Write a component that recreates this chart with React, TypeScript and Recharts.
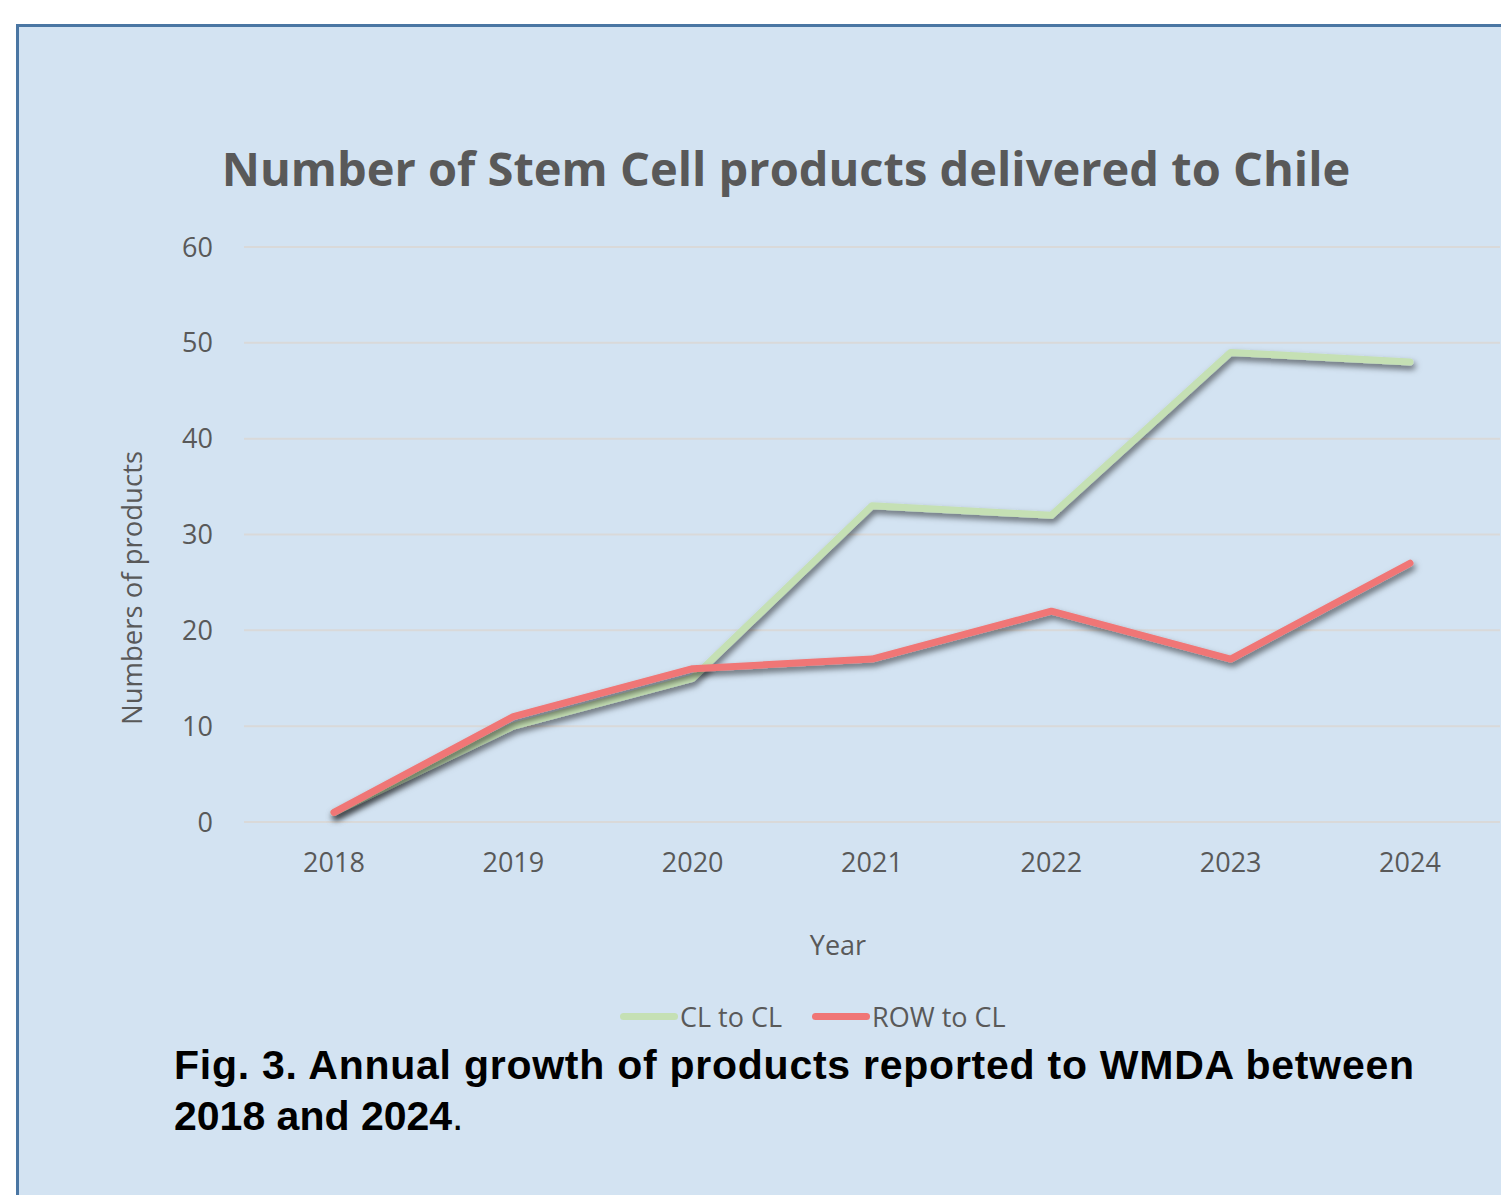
import React from 'react';
import { LineChart, Line, XAxis, YAxis, CartesianGrid, Legend } from 'recharts';

const years = ['2018', '2019', '2020', '2021', '2022', '2023', '2024'];
const clToCl = [1, 10, 15, 33, 32, 49, 48];
const rowToCl = [1, 11, 16, 17, 22, 17, 27];
const yTicks = [0, 10, 20, 30, 40, 50, 60];

const data = years.map((year, i) => ({ year, cl: clToCl[i], row: rowToCl[i] }));

const GRAY = '#595959';
const FONT = '"Open Sans", sans-serif';

const renderLegend = (props: any) => {
    const items = props.payload || [];
    return (
        <div style={{ display: 'flex', alignItems: 'center', fontFamily: FONT, fontSize: 27, color: GRAY }}>
            {items.map((item: any) => (
                <div key={item.value} style={{ display: 'flex', alignItems: 'center', marginRight: 30 }}>
                    <div style={{ width: 58, height: 7, borderRadius: 4, background: item.color, marginRight: 2 }} />
                    <span>{item.value}</span>
                </div>
            ))}
        </div>
    );
};

export default function App() {
    return (
        <div style={{ position: 'absolute', left: 0, top: 0, width: 1501, height: 1195, overflow: 'hidden', background: '#fff' }}>
            <svg width="0" height="0" style={{ position: 'absolute' }}>
                <defs>
                    <filter id="lineShadow" x="-10%" y="-10%" width="120%" height="130%">
                        <feDropShadow dx="2" dy="4" stdDeviation="3" floodColor="#000" floodOpacity="0.55" />
                    </filter>
                </defs>
            </svg>
            <div
                style={{
                    position: 'absolute',
                    left: 16,
                    top: 24,
                    width: 1520,
                    height: 1200,
                    background: '#d3e3f2',
                    borderLeft: '3px solid #4a76a3',
                    borderTop: '3px solid #4a76a3',
                }}
            />
            <div
                style={{
                    position: 'absolute',
                    left: 0,
                    top: 145,
                    width: 1572,
                    textAlign: 'center',
                    fontFamily: FONT,
                    fontWeight: 700,
                    fontSize: 47,
                    lineHeight: '46px',
                    color: GRAY,
                    whiteSpace: 'nowrap',
                }}
            >
                Number of Stem Cell products delivered to Chile
            </div>
            <div style={{ position: 'absolute', left: 0, top: 0 }}>
                <LineChart width={1501} height={1195} data={data} margin={{ top: 247, right: 1, left: 184, bottom: 273 }}>
                    <CartesianGrid horizontal vertical={false} stroke="#d9d9d9" strokeWidth={2} />
                    <XAxis
                        dataKey="year"
                        axisLine={false}
                        tickLine={false}
                        height={100}
                        padding={{ left: 90, right: 90 }}
                        tickMargin={25}
                        tick={{ fill: GRAY, fontSize: 27, fontFamily: FONT }}
                        label={{
                            content: () => (
                                <text x={838} y={955} textAnchor="middle" fill={GRAY} fontSize={27} fontFamily={FONT}>
                                    Year
                                </text>
                            ),
                        }}
                    />
                    <YAxis
                        domain={[0, 60]}
                        ticks={yTicks}
                        width={60}
                        axisLine={false}
                        tickLine={false}
                        tickMargin={25}
                        tick={{ fill: GRAY, fontSize: 27, fontFamily: FONT }}
                        label={{
                            content: () => (
                                <text
                                    x={142}
                                    y={588}
                                    transform="rotate(-90 142 588)"
                                    textAnchor="middle"
                                    fill={GRAY}
                                    fontSize={27.5}
                                    fontFamily={FONT}
                                >
                                    Numbers of products
                                </text>
                            ),
                        }}
                    />
                    <Legend
                        layout="horizontal"
                        verticalAlign="middle"
                        align="center"
                        content={renderLegend}
                        wrapperStyle={{ top: 998, left: 620, width: 'auto' }}
                    />
                    <Line
                        type="linear"
                        dataKey="cl"
                        name="CL to CL"
                        stroke="#c5e0b4"
                        strokeWidth={7}
                        strokeLinecap="round"
                        strokeLinejoin="round"
                        dot={false}
                        activeDot={false}
                        filter="url(#lineShadow)"
                        isAnimationActive={false}
                    />
                    <Line
                        type="linear"
                        dataKey="row"
                        name="ROW to CL"
                        stroke="#f07676"
                        strokeWidth={7}
                        strokeLinecap="round"
                        strokeLinejoin="round"
                        dot={false}
                        activeDot={false}
                        filter="url(#lineShadow)"
                        isAnimationActive={false}
                    />
                </LineChart>
            </div>
            <div
                style={{
                    position: 'absolute',
                    left: 174,
                    top: 1040,
                    fontFamily: '"Liberation Sans", Arial, sans-serif',
                    fontWeight: 700,
                    fontSize: 41,
                    lineHeight: '51px',
                    color: '#000',
                    whiteSpace: 'nowrap',
                }}
            >
                <span style={{ letterSpacing: 0.75 }}>Fig. 3. Annual growth of products reported to WMDA between</span>
                <br />
                2018 and 2024<span style={{ fontWeight: 400 }}>.</span>
            </div>
        </div>
    );
}
